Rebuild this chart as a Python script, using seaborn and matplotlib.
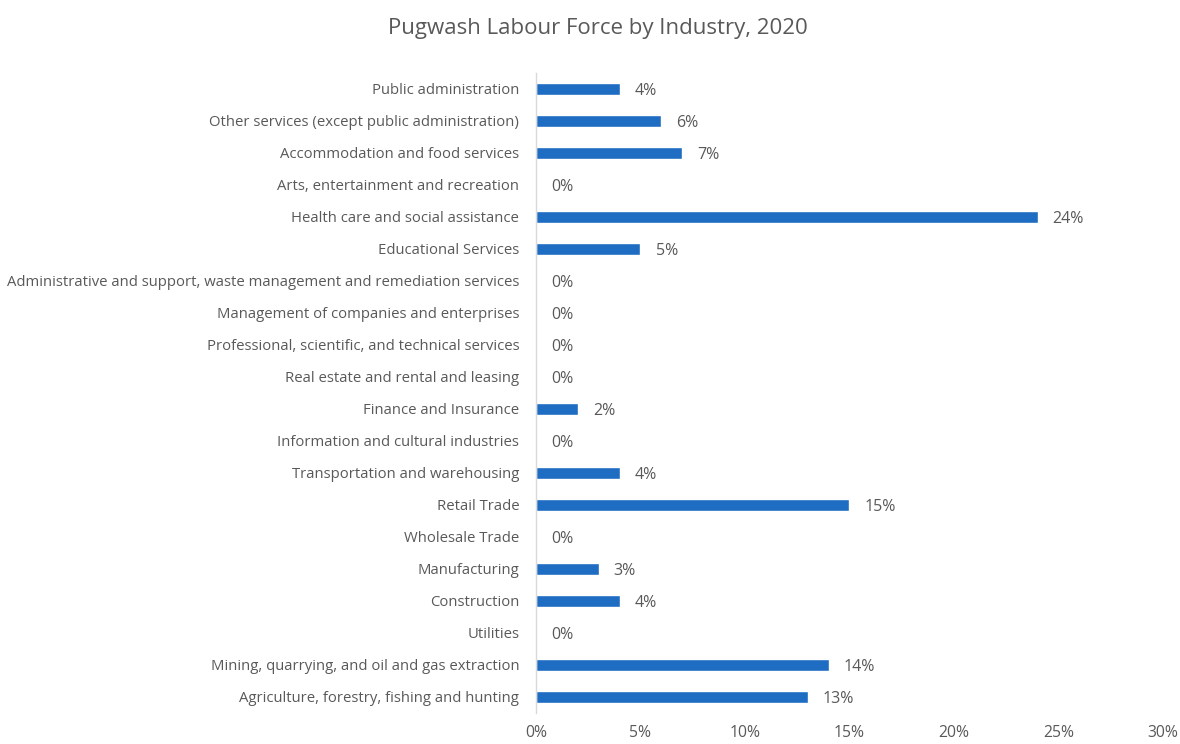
import matplotlib
matplotlib.use("Agg")
import matplotlib.pyplot as plt
import seaborn as sns
import pandas as pd
from matplotlib.ticker import FuncFormatter

industries = [
    "Public administration",
    "Other services (except public administration)",
    "Accommodation and food services",
    "Arts, entertainment and recreation",
    "Health care and social assistance",
    "Educational Services",
    "Administrative and support, waste management and remediation services",
    "Management of companies and enterprises",
    "Professional, scientific, and technical services",
    "Real estate and rental and leasing",
    "Finance and Insurance",
    "Information and cultural industries",
    "Transportation and warehousing",
    "Retail Trade",
    "Wholesale Trade",
    "Manufacturing",
    "Construction",
    "Utilities",
    "Mining, quarrying, and oil and gas extraction",
    "Agriculture, forestry, fishing and hunting",
]
shares = [4, 6, 7, 0, 24, 5, 0, 0, 0, 0, 2, 0, 4, 15, 0, 3, 4, 0, 14, 13]
x_ticks = [0, 5, 10, 15, 20, 25, 30]

df = pd.DataFrame({"industry": industries, "share": shares})

sns.set_theme(style="white")
plt.rcParams["font.family"] = ["Open Sans", "DejaVu Sans"]

text_color = "#595959"
bar_color = "#1f6dc2"

fig = plt.figure(figsize=(11.8, 7.44), dpi=100)
ax = fig.add_axes([0.4542, 0.0417, 0.5314, 0.8602])

sns.barplot(data=df, x="share", y="industry", color=bar_color,
            width=0.38, saturation=1, ax=ax, orient="h")

ax.set_xlim(0, 30)
ax.set_xticks(x_ticks)
ax.xaxis.set_major_formatter(FuncFormatter(lambda v, p: f"{v:.0f}%"))
ax.set_xlabel("")
ax.set_ylabel("")

for s in ["top", "right", "bottom"]:
    ax.spines[s].set_visible(False)
ax.spines["left"].set_color("#d9d9d9")
ax.spines["left"].set_linewidth(1.0)

ax.tick_params(axis="both", length=0, colors=text_color)
ax.tick_params(axis="x", pad=9, labelsize=11.3)
ax.tick_params(axis="y", pad=12, labelsize=10.7)

for i, v in enumerate(shares):
    ax.text(v + 0.72, i + 0.07, f"{v}%", va="center", ha="left",
            color=text_color, fontsize=11.5)

fig.text(0.507, 0.962, "Pugwash Labour Force by Industry, 2020",
         ha="center", va="center", color=text_color, fontsize=16)

fig.savefig("out.png", dpi=100, facecolor="white")
